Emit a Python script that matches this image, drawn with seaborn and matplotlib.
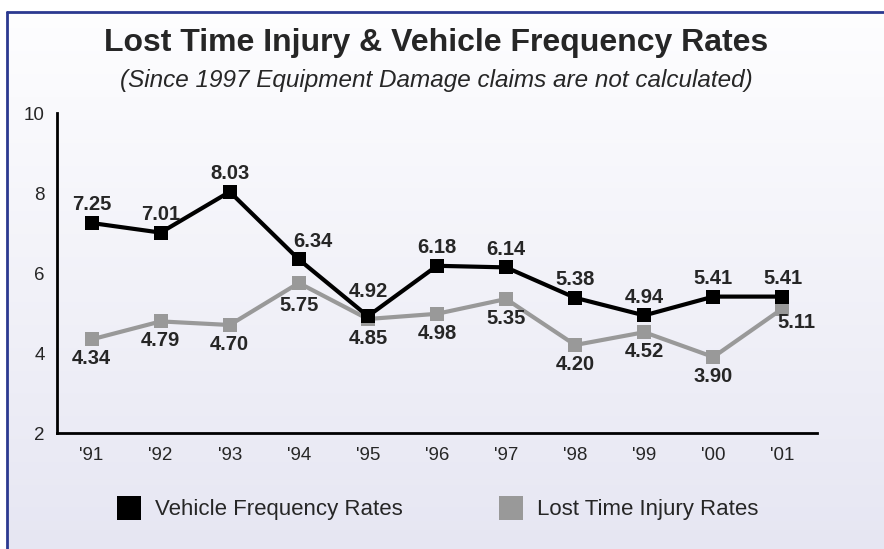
import matplotlib
matplotlib.use("Agg")
import matplotlib.pyplot as plt
from matplotlib.lines import Line2D
import numpy as np
import pandas as pd
import seaborn as sns

years = ["'91", "'92", "'93", "'94", "'95", "'96", "'97", "'98", "'99", "'00", "'01"]
vehicle = [7.25, 7.01, 8.03, 6.34, 4.92, 6.18, 6.14, 5.38, 4.94, 5.41, 5.41]
lost_time = [4.34, 4.79, 4.70, 5.75, 4.85, 4.98, 5.35, 4.20, 4.52, 3.90, 5.11]

VEH = "Vehicle Frequency Rates"
LTI = "Lost Time Injury Rates"

# label nudges (points) where the original moved a value label off its default spot
veh_nudge = {3: (10, 13), 4: (0, 18)}
lti_nudge = {3: (0, -16), 10: (10, -10)}

sns.set_style("white")
plt.rcParams['font.family'] = ['Liberation Sans', 'DejaVu Sans']

df = pd.concat([
    pd.DataFrame({"idx": range(len(years)), "rate": lost_time, "series": LTI}),
    pd.DataFrame({"idx": range(len(years)), "rate": vehicle, "series": VEH}),
])

fig = plt.figure(figsize=(8.84, 5.49), dpi=100)
fig.patch.set_facecolor("white")

# gradient background inside the navy frame
bg = fig.add_axes([7 / 884, -0.01, 1.02 - 7 / 884, 1.01 - 12 / 549], zorder=-10)
grad = np.linspace(0, 1, 256).reshape(-1, 1)
top = np.array([0.995, 0.995, 1.0])
bot = np.array([0.902, 0.902, 0.95])
img = top + (bot - top) * grad[:, :, None]
bg.imshow(img, aspect="auto", extent=[0, 1, 0, 1])
bg.set_xlim(0, 1)
bg.set_ylim(0, 1)
bg.axis("off")
fig.add_artist(Line2D([7 / 884, 7 / 884], [0, 1 - 12 / 549], color="#2b3990", lw=2))
fig.add_artist(Line2D([7 / 884, 1], [1 - 12 / 549, 1 - 12 / 549], color="#2b3990", lw=2))

ax = fig.add_axes([57 / 884, 116 / 549, 760 / 884, 320 / 549])
ax.set_facecolor("none")

palette = {VEH: "black", LTI: "#999999"}
sns.lineplot(data=df, x="idx", y="rate", hue="series", palette=palette,
             style="series", markers={VEH: "s", LTI: "s"}, dashes=False,
             markersize=10, markeredgewidth=0, linewidth=3, legend=False, ax=ax)

for i, v in enumerate(vehicle):
    ax.annotate(f"{v:.2f}", (i, v), xytext=veh_nudge.get(i, (0, 13)), textcoords="offset points",
                ha="center", va="center", fontsize=14.5, fontweight="bold")
for i, v in enumerate(lost_time):
    ax.annotate(f"{v:.2f}", (i, v), xytext=lti_nudge.get(i, (0, -14)), textcoords="offset points",
                ha="center", va="center", fontsize=14.5, fontweight="bold")

ax.set_xlim(-0.5, 10.5)
ax.set_ylim(2, 10)
ax.set_xticks(range(len(years)))
ax.set_xticklabels(years)
ax.set_yticks([2, 4, 6, 8, 10])
ax.set_xlabel("")
ax.set_ylabel("")
ax.tick_params(axis="y", direction="in", length=13, width=1.2, pad=9, labelsize=13.5)
ax.tick_params(axis="x", direction="in", length=5, width=1.2, pad=10, labelsize=13.5)
sns.despine(ax=ax)
for s in ["left", "bottom"]:
    ax.spines[s].set_linewidth(2)
    ax.spines[s].set_color("black")

fig.text(436 / 884, 1 - 43 / 549, "Lost Time Injury & Vehicle Frequency Rates",
         ha="center", va="center", fontsize=23, fontweight="bold")
fig.text(436 / 884, 1 - 80 / 549, "(Since 1997 Equipment Damage claims are not calculated)",
         ha="center", va="center", fontsize=17.5, style="italic")

handles = [Line2D([], [], linestyle="none", marker="s", markersize=17, color=palette[VEH], markeredgewidth=0),
           Line2D([], [], linestyle="none", marker="s", markersize=17, color=palette[LTI], markeredgewidth=0)]
fig.legend(handles, [VEH, LTI], loc="center", bbox_to_anchor=(437 / 884, 1 - 510 / 549),
           ncol=2, frameon=False, fontsize=16, columnspacing=4.3, handlelength=1.2,
           handletextpad=0.55)

fig.savefig("out.png", dpi=100)
